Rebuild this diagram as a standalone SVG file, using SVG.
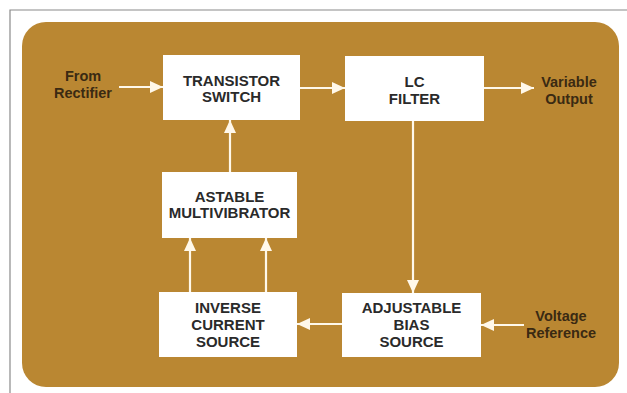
<svg xmlns="http://www.w3.org/2000/svg" width="627" height="393" viewBox="0 0 627 393">
<defs>
<marker id="ah" markerUnits="userSpaceOnUse" markerWidth="13" markerHeight="12" refX="13" refY="6" orient="auto">
<path d="M0,0 L13,6 L0,12 z" fill="#FFF8EA"/>
</marker>
<style>
.box{fill:#FFFFFF;}
.bt{font-family:"Liberation Sans",Arial,sans-serif;font-weight:bold;font-size:15px;fill:#2A2A2A;text-anchor:middle;}
.lb{font-family:"Liberation Sans",Arial,sans-serif;font-weight:bold;font-size:14.5px;fill:#3A2A12;text-anchor:middle;}
.cn{stroke:#FFF8EA;stroke-width:2.2;fill:none;marker-end:url(#ah);}
</style>
</defs>
<rect x="0" y="0" width="627" height="393" fill="#FFFFFF"/>
<path d="M10,393 V10 H627" stroke="#8A8A8A" stroke-width="1.2" fill="none"/>
<rect x="22" y="22" width="597" height="365" rx="24" ry="24" fill="#BA8732"/>
<g id="connectors">
<line class="cn" x1="119" y1="87" x2="163" y2="87"/>
<line class="cn" x1="300" y1="88" x2="345" y2="88"/>
<line class="cn" x1="484" y1="88" x2="534" y2="88"/>
<line class="cn" x1="413" y1="121" x2="413" y2="293"/>
<line class="cn" x1="524" y1="325" x2="481" y2="325"/>
<line class="cn" x1="342" y1="324" x2="297" y2="324"/>
<line class="cn" x1="190" y1="292" x2="190" y2="238"/>
<line class="cn" x1="266" y1="292" x2="266" y2="238"/>
<line class="cn" x1="230" y1="172" x2="230" y2="120"/>
</g>
<g id="from-rectifier">
<text class="lb" x="83" y="81">From</text>
<text class="lb" x="83" y="98">Rectifier</text>
</g>
<g id="transistor-switch">
<rect class="box" x="163" y="55" width="137" height="65"/>
<text class="bt" x="231.5" y="86">TRANSISTOR</text>
<text class="bt" x="231.5" y="102">SWITCH</text>
</g>
<g id="lc-filter">
<rect class="box" x="345" y="56" width="139" height="65"/>
<text class="bt" x="414.5" y="87">LC</text>
<text class="bt" x="414.5" y="104">FILTER</text>
</g>
<g id="variable-output">
<text class="lb" x="569" y="87">Variable</text>
<text class="lb" x="569" y="104">Output</text>
</g>
<g id="astable-multivibrator">
<rect class="box" x="162" y="172" width="135" height="66"/>
<text class="bt" x="229.5" y="202">ASTABLE</text>
<text class="bt" x="229.5" y="218">MULTIVIBRATOR</text>
</g>
<g id="inverse-current-source">
<rect class="box" x="159" y="292" width="138" height="65"/>
<text class="bt" x="228" y="312.5">INVERSE</text>
<text class="bt" x="228" y="329.5">CURRENT</text>
<text class="bt" x="228" y="346.5">SOURCE</text>
</g>
<g id="adjustable-bias-source">
<rect class="box" x="342" y="293" width="139" height="64"/>
<text class="bt" x="411.5" y="312.5">ADJUSTABLE</text>
<text class="bt" x="411.5" y="329.5">BIAS</text>
<text class="bt" x="411.5" y="346.5">SOURCE</text>
</g>
<g id="voltage-reference">
<text class="lb" x="561" y="321">Voltage</text>
<text class="lb" x="561" y="338">Reference</text>
</g>
</svg>
